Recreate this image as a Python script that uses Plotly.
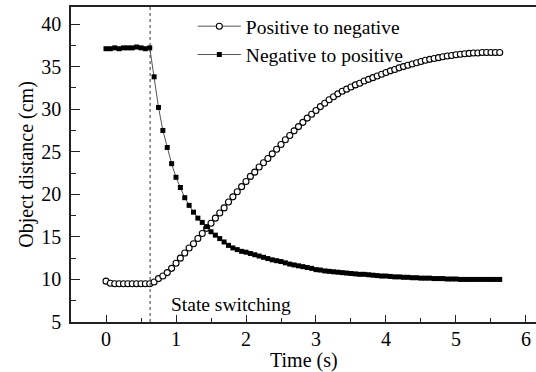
import plotly.graph_objects as go

# Sampling interval of the recorded distance (s)
SAMPLE_INTERVAL = 0.0625

pos_to_neg = [
    9.8, 9.55, 9.5, 9.5, 9.5, 9.5, 9.5, 9.5, 9.5, 9.5, 9.5,
    9.7, 10.1, 10.4, 10.8, 11.3, 11.9, 12.5, 13.1, 13.7, 14.2,
    14.8, 15.4, 16.0, 16.6, 17.2, 17.8, 18.4, 19.1, 19.7, 20.3,
    20.9, 21.5, 22.1, 22.6, 23.2, 23.7, 24.2, 24.75, 25.3, 25.85,
    26.4, 26.9, 27.45, 27.95, 28.45, 28.95, 29.4, 29.85, 30.3, 30.7,
    31.1, 31.45, 31.8, 32.1, 32.35, 32.6, 32.85, 33.05, 33.3, 33.5,
    33.7, 33.9, 34.1, 34.3, 34.5, 34.65, 34.85, 35.0, 35.15, 35.3,
    35.45, 35.6, 35.75, 35.85, 35.95, 36.05, 36.15, 36.25, 36.3, 36.4,
    36.45, 36.5, 36.55, 36.6, 36.6, 36.65, 36.65, 36.65, 36.65, 36.65,
]

neg_to_pos = [
    37.1, 37.1, 37.2, 37.1, 37.2, 37.2, 37.2, 37.3, 37.2, 37.1, 37.2,
    33.8, 30.2, 27.5, 25.5, 23.6, 22.0, 20.8, 19.6, 18.7, 17.9,
    17.2, 16.7, 16.2, 15.6, 15.2, 14.8, 14.4, 14.0, 13.7, 13.5,
    13.3, 13.2, 13.05, 12.9, 12.75, 12.6, 12.45, 12.3, 12.2, 12.1,
    11.95, 11.8, 11.7, 11.6, 11.5, 11.4, 11.3, 11.15, 11.1, 11.0,
    10.95, 10.9, 10.85, 10.8, 10.75, 10.7, 10.65, 10.6, 10.6, 10.55,
    10.5, 10.45, 10.4, 10.4, 10.35, 10.3, 10.3, 10.25, 10.25, 10.2,
    10.2, 10.15, 10.15, 10.15, 10.1, 10.1, 10.1, 10.05, 10.05, 10.05,
    10.0, 10.0, 10.0, 10.0, 10.0, 10.0, 10.0, 10.0, 10.0, 10.0,
]

time_s = [i * SAMPLE_INTERVAL for i in range(len(pos_to_neg))]

switch_time = 0.63
series_names = ["Positive to negative", "Negative to positive"]
x_ticks = [0, 1, 2, 3, 4, 5, 6]
y_ticks = [5, 10, 15, 20, 25, 30, 35, 40]

FONT = "Liberation Serif"
AX = "#222222"

fig = go.Figure()
fig.add_trace(go.Scatter(
    x=time_s, y=pos_to_neg, mode="lines+markers", name=series_names[0],
    line=dict(color="#555555", width=1),
    marker=dict(symbol="circle", size=6, color="white",
                line=dict(color="black", width=1.1)),
))
fig.add_trace(go.Scatter(
    x=time_s, y=neg_to_pos, mode="lines+markers", name=series_names[1],
    line=dict(color="#555555", width=1),
    marker=dict(symbol="square", size=5, color="black",
                line=dict(color="black", width=0)),
))

fig.add_shape(type="line", xref="x", yref="paper", x0=switch_time, x1=switch_time,
              y0=0, y1=1, line=dict(color="#333333", width=1, dash="dot"))

fig.add_annotation(x=1.78, y=7.1, xref="x", yref="y", text="State switching",
                   showarrow=False, font=dict(family=FONT, size=19.5, color="black"))

fig.add_annotation(xref="paper", yref="paper", x=0.5, y=-0.121, yanchor="middle",
                   text="Time (s)", showarrow=False,
                   font=dict(family=FONT, size=20, color="black"))

fig.update_layout(
    width=536, height=372,
    margin=dict(l=71, r=0, t=7, b=50),
    paper_bgcolor="white", plot_bgcolor="white",
    font=dict(family=FONT, size=20, color="black"),
    showlegend=True,
    legend=dict(x=0.262, y=1.0, xanchor="left", yanchor="top",
                bgcolor="rgba(0,0,0,0)", font=dict(family=FONT, size=19.5),
                tracegroupgap=0, itemwidth=43),
    xaxis=dict(
        range=[-0.5, 6.143], tickvals=x_ticks, ticktext=[str(v) for v in x_ticks],
        showline=True, linecolor=AX, linewidth=1.5, mirror=True,
        ticks="inside", ticklen=7, tickwidth=1.2, tickcolor=AX,
        minor=dict(ticks="inside", ticklen=4, tickwidth=1.2, tickcolor=AX, dtick=0.5, tick0=0),
        showgrid=False, zeroline=False,
        ticklabelstandoff=-2,
        tickfont=dict(family=FONT, size=20),
    ),
    yaxis=dict(
        range=[5, 42], tickvals=y_ticks, ticktext=[str(v) for v in y_ticks],
        showline=True, linecolor=AX, linewidth=1.5, mirror=False,
        ticks="inside", ticklen=9, tickwidth=1.2, tickcolor=AX,
        minor=dict(ticks="inside", ticklen=5, tickwidth=1.2, tickcolor=AX, dtick=2.5, tick0=0),
        showgrid=False, zeroline=False,
        ticklabelstandoff=4,
        tickfont=dict(family=FONT, size=20),
        title=dict(text="Object distance (cm)", font=dict(family=FONT, size=20), standoff=2),
    ),
)

fig.write_html("out.html")
